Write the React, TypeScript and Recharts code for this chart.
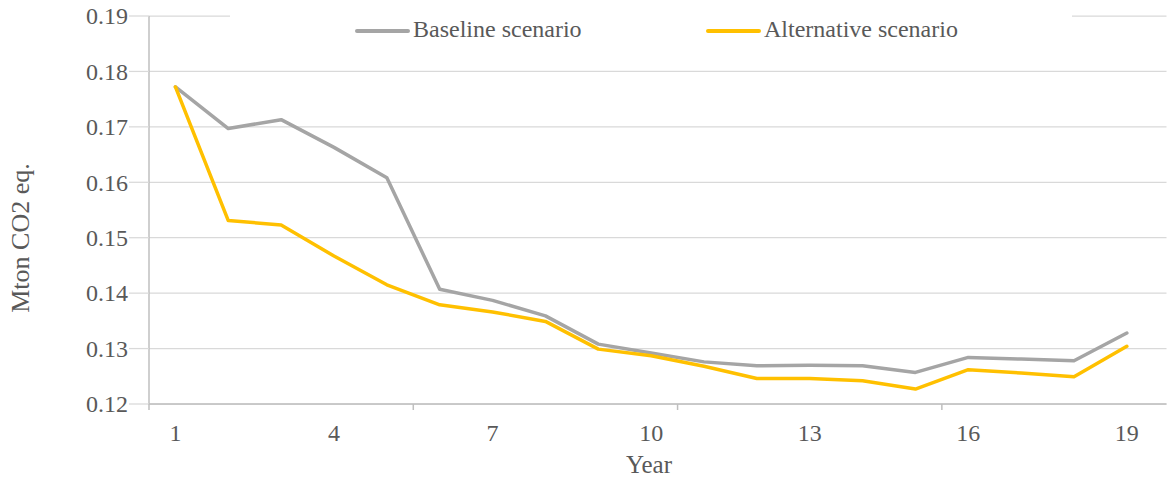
import React from 'react';
import { LineChart, Line, XAxis, YAxis, CartesianGrid, Legend } from 'recharts';

const years = [1, 2, 3, 4, 5, 6, 7, 8, 9, 10, 11, 12, 13, 14, 15, 16, 17, 18, 19];
const baselineScenario = [
  0.1772, 0.1697, 0.1713, 0.1663, 0.1608, 0.1407, 0.1387, 0.1359, 0.1308, 0.1292,
  0.1276, 0.1269, 0.127, 0.1269, 0.1257, 0.1284, 0.1281, 0.1278, 0.1328,
];
const alternativeScenario = [
  0.1772, 0.1531, 0.1523, 0.1467, 0.1415, 0.1379, 0.1366, 0.1349, 0.1299, 0.1287,
  0.1268, 0.1246, 0.1246, 0.1242, 0.1227, 0.1262, 0.1256, 0.1249, 0.1304,
];
const yTicks = [0.12, 0.13, 0.14, 0.15, 0.16, 0.17, 0.18, 0.19];
const xLabelTicks = [1, 4, 7, 10, 13, 16, 19];
const xBoundaryTicks = [0.5, 5.5, 10.5, 15.5];
const seriesNames = ['Baseline scenario', 'Alternative scenario'];
const seriesColors = ['#A5A5A5', '#FFC000'];
const yTitle = 'Mton CO2 eq.';
const xTitle = 'Year';

const data = years.map((y, i) => ({
  year: y,
  baseline: baselineScenario[i],
  alternative: alternativeScenario[i],
}));

const allXTicks = [...xBoundaryTicks, ...xLabelTicks].sort((a, b) => a - b);

const FONT = '"Liberation Serif", "Times New Roman", Times, serif';
const TEXT = '#595959';
const textStyle = { fontFamily: FONT, fill: TEXT } as React.CSSProperties;

function XTick(props: any) {
  const { x, y, payload } = props;
  const v = payload.value;
  if (xBoundaryTicks.includes(v)) {
    return <line x1={x} x2={x} y1={y} y2={y + 6} stroke="#BFBFBF" strokeWidth={1.5} />;
  }
  return (
    <text x={x} y={y + 37} textAnchor="middle" fontSize={24} style={textStyle}>
      {v}
    </text>
  );
}

function YTick(props: any) {
  const { x, y, payload } = props;
  const v = Number(payload.value);
  return (
    <text x={x} y={y + 8.3} textAnchor="end" fontSize={24} style={textStyle}>
      {v.toFixed(2)}
    </text>
  );
}

function YTitle() {
  return (
    <text
      x={29}
      y={238}
      transform="rotate(-90 29 238)"
      textAnchor="middle"
      fontSize={26}
      style={textStyle}
    >
      {yTitle}
    </text>
  );
}

function XTitle() {
  return (
    <text x={649} y={472.5} textAnchor="middle" fontSize={25} style={textStyle}>
      {xTitle}
    </text>
  );
}

const legendItemLeft = [125, 476];

function LegendContent() {
  return (
    <div style={{ position: 'relative', width: 842, height: 48, background: '#ffffff' }}>
      {seriesNames.map((name, i) => (
        <div key={name} style={{ position: 'absolute', left: legendItemLeft[i], top: 0, height: 48 }}>
          <div
            style={{
              position: 'absolute',
              left: 0,
              top: 29,
              width: 55,
              height: 4,
              borderRadius: 2,
              background: seriesColors[i],
            }}
          />
          <span
            style={{
              position: 'absolute',
              left: 58,
              top: 16,
              whiteSpace: 'nowrap',
              fontFamily: FONT,
              fontSize: 24,
              lineHeight: '27px',
              color: TEXT,
            }}
          >
            {name}
          </span>
        </div>
      ))}
    </div>
  );
}

export default function App() {
  return (
    <div style={{ width: 1167, height: 478, background: '#ffffff' }}>
      <style>{'body{margin:0;background:#fff}'}</style>
      <LineChart
        width={1167}
        height={478}
        data={data}
        margin={{ top: 16, right: 0.5, bottom: 0, left: 0 }}
      >
        <CartesianGrid horizontal vertical={false} stroke="#D9D9D9" strokeWidth={1.25} />
        <XAxis
          dataKey="year"
          type="number"
          domain={[0.5, 19.75]}
          ticks={allXTicks}
          interval={0}
          height={74}
          tickSize={0}
          tickMargin={0}
          tickLine={false}
          axisLine={{ stroke: '#BFBFBF', strokeWidth: 1.5 }}
          tick={<XTick />}
          label={<XTitle />}
          allowDataOverflow
        />
        <YAxis
          type="number"
          domain={[0.12, 0.19]}
          ticks={yTicks}
          interval={0}
          width={149}
          tickSize={20}
          tickMargin={1}
          tickLine={{ stroke: '#D9D9D9', strokeWidth: 1.25 }}
          axisLine={{ stroke: '#BFBFBF', strokeWidth: 1.5 }}
          tick={<YTick />}
          label={<YTitle />}
          allowDataOverflow
        />
        <Legend
          verticalAlign="middle"
          align="center"
          layout="horizontal"
          content={<LegendContent />}
          wrapperStyle={{ left: 230, top: 0, width: 842, height: 48, margin: 0, padding: 0 }}
        />
        <Line
          type="linear"
          dataKey="baseline"
          name={seriesNames[0]}
          stroke={seriesColors[0]}
          strokeWidth={3.5}
          strokeLinejoin="round"
          strokeLinecap="round"
          dot={false}
          activeDot={false}
          isAnimationActive={false}
        />
        <Line
          type="linear"
          dataKey="alternative"
          name={seriesNames[1]}
          stroke={seriesColors[1]}
          strokeWidth={3.5}
          strokeLinejoin="round"
          strokeLinecap="round"
          dot={false}
          activeDot={false}
          isAnimationActive={false}
        />
      </LineChart>
    </div>
  );
}
